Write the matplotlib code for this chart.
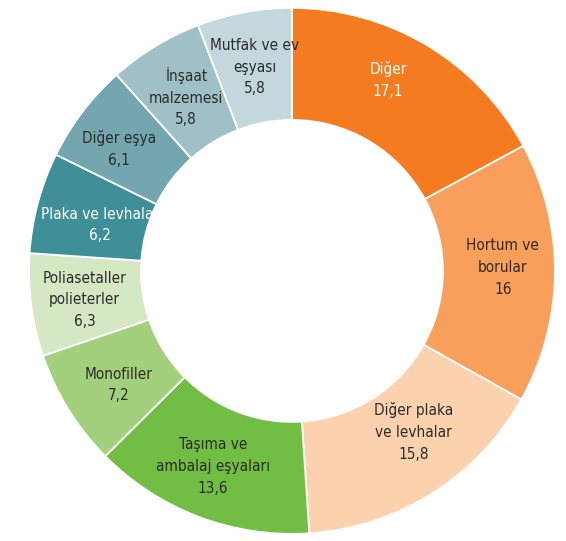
import matplotlib.pyplot as plt
import numpy as np

labels = ["Diğer", "Hortum ve\nborular", "Diğer plaka\nve levhalar", "Taşıma ve\nambalaj eşyaları",
          "Monofiller", "Poliasetaller\npolieterler", "Plaka ve levhalar", "Diğer eşya",
          "İnşaat\nmalzemesi", "Mutfak ve ev\neşyası"]
values = [17.1, 16, 15.8, 13.6, 7.2, 6.3, 6.2, 6.1, 5.8, 5.8]
value_text = ["17,1", "16", "15,8", "13,6", "7,2", "6,3", "6,2", "6,1", "5,8", "5,8"]
colors = ["#F47B20", "#F89F5B", "#FCD2AE", "#72BD44", "#A3D07C", "#D5E8C3",
          "#3F8F99", "#74A6B0", "#A0C0C7", "#C3D7DC"]
text_colors = ["white", "#2b2b2b", "#2b2b2b", "#2b2b2b", "#2b2b2b", "#2b2b2b",
               "white", "#2b2b2b", "#2b2b2b", "#2b2b2b"]
# small hand nudges of each label (pixels, right / up)
nudges = [(-10, 13), (4, 5), (11, 14), (-6, -2), (3, -5), (-2, -2),
          (8, -8), (-8, -3), (2, -3), (0, 0)]

plt.rcParams['font.family'] = ['DejaVu Sans']

fig = plt.figure(figsize=(5.66, 5.41), dpi=100)
ax = fig.add_axes([0.0, 0.0, 1.0, 1.0])

outer = 1.0
width = 0.426
wedges, _ = ax.pie(values, colors=colors, startangle=90, counterclock=False,
                   radius=outer, center=(0.0, 0.0),
                   wedgeprops=dict(width=width, edgecolor='white', linewidth=1.3))
ax.set_xlim(-1.110, 1.042)
ax.set_ylim(-1.027, 1.030)
ax.set_aspect('equal')
ax.axis('off')

total = sum(values)
r_lab = outer - width / 2
angle = 90.0
for lab, vt, v, tc, (nx, ny) in zip(labels, value_text, values, text_colors, nudges):
    span = v / total * 360
    mid = np.deg2rad(angle - span / 2)
    angle -= span
    ax.annotate(lab + "\n" + vt, xy=(r_lab * np.cos(mid), r_lab * np.sin(mid)),
                xytext=(nx * 0.72, ny * 0.72), textcoords='offset points',
                ha='center', va='center', fontsize=11, fontstretch='condensed',
                color=tc, linespacing=1.55)

fig.savefig("out.png", dpi=100)
